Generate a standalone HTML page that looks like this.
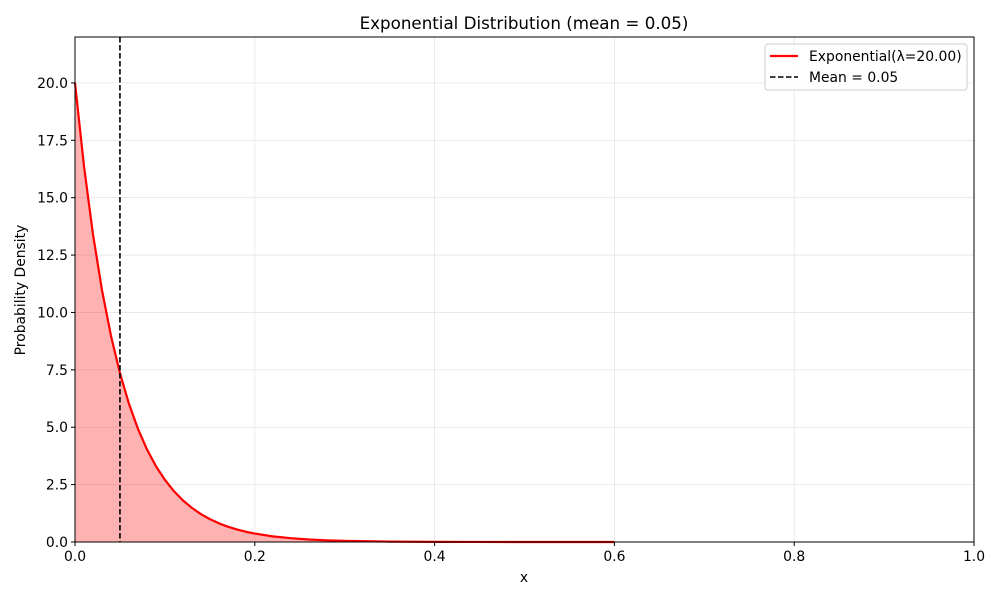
<!DOCTYPE html>
<html><head><meta charset="utf-8"><style>
body{margin:0;background:#fff;}
svg text{font-family:"DejaVu Sans","Liberation Sans",sans-serif;fill:#000;}
</style></head><body>
<svg id="chart" width="1000" height="600" xmlns="http://www.w3.org/2000/svg">
<rect width="1000" height="600" fill="#fff"/>
<g id="grid"></g>
<g id="plot"></g>
<rect x="75" y="37" width="899" height="505" fill="none" stroke="#000" stroke-width="1"/>
<g id="ticks"></g>
<text x="524" y="29" font-size="16.7" text-anchor="middle">Exponential Distribution (mean = 0.05)</text>
<text x="524" y="582" font-size="13.9" text-anchor="middle">x</text>
<text x="25" y="290" font-size="13.9" text-anchor="middle" transform="rotate(-90 25 290)">Probability Density</text>
<g>
<rect x="765" y="44" width="202" height="46" rx="3" fill="#fff" fill-opacity="0.8" stroke="#ccc"/>
<line x1="770" y1="56" x2="798" y2="56" stroke="#ff0000" stroke-width="2.2"/>
<text x="809" y="61" font-size="13.9">Exponential(λ=20.00)</text>
<line x1="770" y1="77" x2="798" y2="77" stroke="#000" stroke-width="1.6" stroke-dasharray="5.5,2.5"/>
<text x="809" y="82" font-size="13.9">Mean = 0.05</text>
</g>
</svg>
<script>
const xs=[0,0.01,0.02,0.03,0.04,0.05,0.06,0.07,0.08,0.09,0.10,0.11,0.12,0.13,0.14,0.15,0.16,0.17,0.18,0.19,0.20,0.22,0.24,0.26,0.28,0.30,0.35,0.40,0.45,0.50,0.55,0.60];
const ys=[20,16.375,13.406,10.976,8.987,7.358,6.024,4.932,4.038,3.306,2.707,2.216,1.814,1.486,1.216,0.996,0.815,0.667,0.546,0.447,0.366,0.245,0.165,0.110,0.074,0.050,0.018,0.007,0.002,0.001,0.0003,0.0001];
const meanValue=[0.05];
const xTicks=[0,0.2,0.4,0.6,0.8,1.0];
const xTickLabels=["0.0","0.2","0.4","0.6","0.8","1.0"];
const yTicks=[0,2.5,5,7.5,10,12.5,15,17.5,20];
const yTickLabels=["0.0","2.5","5.0","7.5","10.0","12.5","15.0","17.5","20.0"];
const X0=75,X1=974,Y0=542,Y1=37,XMAX=1,YMAX=22;
const sx=v=>X0+(X1-X0)*v/XMAX, sy=v=>Y0-(Y0-Y1)*v/YMAX;
const NS="http://www.w3.org/2000/svg";
function mk(tag,attrs,parent){const e=document.createElementNS(NS,tag);for(const k in attrs)e.setAttribute(k,attrs[k]);parent.appendChild(e);return e;}
const grid=document.getElementById('grid'),plot=document.getElementById('plot'),ticks=document.getElementById('ticks');
xTicks.forEach((t,i)=>{
 const g=mk('line',{x1:sx(t),x2:sx(t),y1:Y1,y2:Y0,stroke:'#e5e5e5','stroke-width':0.8},grid);
 
 
 const tk=mk('line',{x1:sx(t),x2:sx(t),y1:Y0,y2:Y0+4,stroke:'#000'},ticks);
 
 
 const tx=mk('text',{x:sx(t),y:Y0+19,'font-size':13.9,'text-anchor':'middle'},ticks);
 tx.textContent=xTickLabels[i];
 
 
});
yTicks.forEach((t,i)=>{
 const g=mk('line',{x1:X0,x2:X1,y1:sy(t),y2:sy(t),stroke:'#e5e5e5','stroke-width':0.8},grid);
 
 
 const tk=mk('line',{x1:X0-4,x2:X0,y1:sy(t),y2:sy(t),stroke:'#000'},ticks);
 
 
 const tx=mk('text',{x:X0-7,y:sy(t)+5,'font-size':13.9,'text-anchor':'end'},ticks);
 tx.textContent=yTickLabels[i];
 
 
});
const pts=xs.map((x,i)=>sx(x).toFixed(2)+','+sy(ys[i]).toFixed(2));
const area=mk('path',{d:'M'+sx(xs[0])+','+sy(0)+' L'+pts.join(' L')+' L'+sx(xs[xs.length-1])+','+sy(0)+' Z',fill:'#ff0000','fill-opacity':0.3},plot);


const line=mk('polyline',{points:pts.join(' '),fill:'none',stroke:'#ff0000','stroke-width':2.2,'stroke-linejoin':'round'},plot);


const m=mk('line',{x1:sx(meanValue[0]),x2:sx(meanValue[0]),y1:Y1,y2:Y0,stroke:'#000','stroke-width':1.6,'stroke-dasharray':'5.5,2.5'},plot);


</script>
</body></html>
